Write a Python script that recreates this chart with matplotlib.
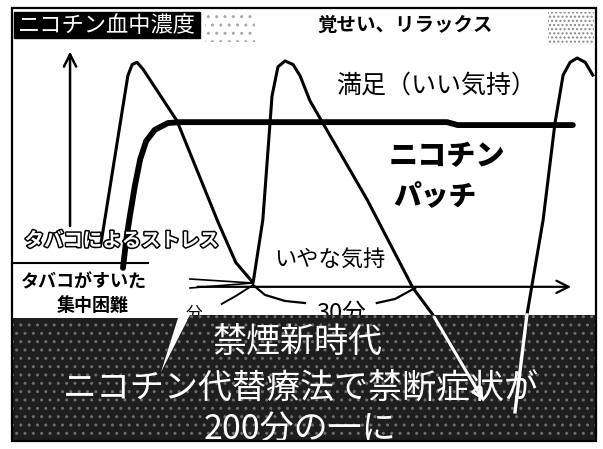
import matplotlib
matplotlib.use("Agg")
import matplotlib.pyplot as plt
import matplotlib.patheffects as pe
from matplotlib.patches import Polygon, Rectangle

plt.rcParams['font.family'] = ['Noto Sans CJK JP', 'DejaVu Sans']

# time in minutes (0 = first cigarette), nicotine level in % of peak
cig_t = [-0.4, 4.6, 5.4, 6.3, 7.4, 13.7, 21.3, 24.6, 27.8, 29.6, 31.3, 32.4, 33.7, 35.2, 36.5, 38.3, 48.9, 57.4, 61.1]
cig_level = [18, 93, 98, 99, 96, 73, 28, 10, 1, 29, 84, 97, 99.6, 98, 93, 82, 38, -1.3, -13.3]
cig_tail_t = [61.1, 70.7]          # part of the line that runs into the banner
cig_tail_level = [-13.3, -52.4]
next_t = [76.3, 78.5, 81.5, 83.7, 85.2, 86.5, 87.8, 89.3, 90.7]
next_level = [-56.4, -13.3, 28.9, 72, 93.3, 99, 100.9, 99, 93.3]
patch_t = [3.7, 4.3, 5.0, 5.9, 6.9, 8.0, 9.6, 12.0, 14.3, 63.7, 65.7, 87.0]
patch_level = [7.6, 20, 31, 44, 56, 64, 69, 72, 72.4, 72.4, 71.1, 71.1]

W, H = 603, 449
fig = plt.figure(figsize=(W / 100, H / 100), dpi=100)
ax = fig.add_axes([0, 0, 1, 1])
# pixel 0..603 -> minutes, pixel 449..0 -> level
ax.set_xlim(-19.07, 92.59)
ax.set_ylim(-72.9, 126.7)
ax.axis('off')


def P(x, y):
    return (x / W, 1 - y / H)


tA = ax.transAxes

# outer frame
ax.add_patch(Rectangle(P(12, 441), 584 / W, 433 / H, fill=False, lw=1.6, ec='black', transform=tA, zorder=6))

# title box
ax.add_patch(Rectangle(P(14, 38), 186 / W, 26 / H, fc='black', ec='black', transform=tA, zorder=2))
ax.text(*P(107, 25), 'ニコチン血中濃度', transform=tA, ha='center', va='center', fontsize=16,
        color='white', zorder=3)
ax.add_patch(Rectangle(P(205, 42), 50 / W, 30 / H, fill=False, lw=0, hatch='..', ec='#aaaaaa', transform=tA))
ax.add_patch(Rectangle(P(548, 45), 46 / W, 33 / H, fill=False, lw=0, hatch='....', ec='#888888', transform=tA))

ax.text(*P(405, 25), '覚せい、リラックス', transform=tA, ha='center', va='center', fontsize=14,
        fontweight='bold', color='black')
ax.text(*P(436, 86), '満足（いい気持）', transform=tA, ha='center', va='center', fontsize=18, color='black')
ax.text(*P(447, 156), 'ニコチン', transform=tA, ha='center', va='center', fontsize=21,
        fontweight='heavy', color='black')
ax.text(*P(393, 197), 'パッチ', transform=tA, ha='left', va='center', fontsize=20,
        fontweight='heavy', color='black')
ax.text(*P(330, 259), 'いやな気持', transform=tA, ha='center', va='center', fontsize=16, color='black')
ax.text(*P(122, 241), 'タバコによるストレス', transform=tA, ha='center', va='center', fontsize=14,
        color='white', fontstyle='italic', fontweight='bold',
        path_effects=[pe.withStroke(linewidth=2.2, foreground='black')], zorder=5)
ax.text(*P(84, 282), 'タバコがすいた', transform=tA, ha='center', va='center', fontsize=13,
        fontweight='bold', color='black')
ax.text(*P(93, 305), '集中困難', transform=tA, ha='center', va='center', fontsize=13,
        fontweight='bold', color='black')
ax.plot(*zip(P(12, 263), P(148, 263)), transform=tA, color='black', lw=1.5)

# axes arrows
ax.annotate('', xy=(-6.1, 105), xytext=(-6.1, 25),
            arrowprops=dict(arrowstyle='->', lw=1.8, color='black', mutation_scale=22))
ax.annotate('', xy=(87.2, -0.8), xytext=(17, -0.8),
            arrowprops=dict(arrowstyle='->', lw=1.6, color='black', mutation_scale=22))
ax.plot(*zip(P(190, 279), P(253, 283)), transform=tA, color='black', lw=1.2)
ax.plot(*zip(P(190, 288), P(253, 283)), transform=tA, color='black', lw=1.2)

# braces "30分"
ax.plot([27.8, 30.0, 33.7, 37.4], [0, -4.4, -7.1, -8.0], color='black', lw=1.6)
ax.plot([50.7, 54.1, 57.8], [-8, -6.2, -1.3], color='black', lw=1.6)
ax.plot([22.0, 24.5, 27.8], [-8.4, -5, 0], color='black', lw=1.4)
ax.text(*P(341, 313), '30分', transform=tA, ha='center', va='center', fontsize=17, color='black', zorder=1)
ax.text(*P(194, 314), '分', transform=tA, ha='center', va='center', fontsize=12, color='black', zorder=1)

# curves
ax.plot(cig_t, cig_level, color='black', lw=2.2, solid_capstyle='round', zorder=2)
ax.plot(next_t[1:], next_level[1:], color='black', lw=2.2, zorder=2)
ax.plot(patch_t, patch_level, color='black', lw=4.2, solid_capstyle='round', zorder=2)

# dark banner
banner = [P(12, 441), P(12, 318), P(178, 318), P(161, 372), P(190, 315), P(596, 315), P(596, 441)]
ax.add_patch(Polygon(banner, closed=True, fc='#1e1e1e', ec='none', transform=tA, zorder=3))
ax.add_patch(Polygon(banner, closed=True, fill=False, lw=0, hatch='..', ec='#6e6e6e', transform=tA, zorder=3))

ax.annotate('', xy=(cig_tail_t[1], cig_tail_level[1]), xytext=(cig_tail_t[0], cig_tail_level[0]),
            arrowprops=dict(arrowstyle='->', lw=2.2, color='white', mutation_scale=16), zorder=4)
ax.plot(next_t[:2], next_level[:2], color='white', lw=2.4, zorder=4)

ax.text(*P(298, 342), '禁煙新時代', transform=tA, ha='center', va='center', fontsize=24.5,
        color='white', zorder=5)
ax.text(*P(301, 388), 'ニコチン代替療法で禁断症状が', transform=tA, ha='center', va='center',
        fontsize=24.5, color='white', zorder=5)
ax.text(*P(300, 430), '200分の一に', transform=tA, ha='center', va='center', fontsize=24.5,
        color='white', zorder=5)

fig.savefig('out.png', dpi=100, facecolor='white')
